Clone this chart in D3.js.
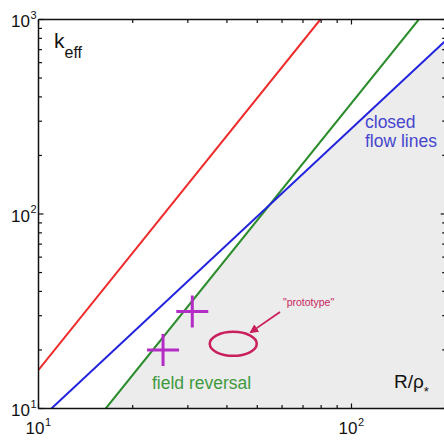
<!DOCTYPE html>
<html>
<head>
<meta charset="utf-8">
<script src="https://cdn.jsdelivr.net/npm/d3@7"></script>
<style>
  html, body { margin: 0; padding: 0; background: #fff; }
  svg { display: block; font-family: "Liberation Sans", Arial, Helvetica, sans-serif; }
</style>
</head>
<body>
<svg id="chart" width="444" height="440"></svg>
<script>
// ---------- data ----------
const xDomain = [10, 200];
const yDomain = [10, 1000];
const xTickExps = ["1", "2"];          // 10^1, 10^2
const yTickExps = ["1", "2", "3"];     // 10^1, 10^2, 10^3

// scaling lines (endpoints, data units: R/rho*, k_eff)
const redLine   = [[10, 15.8], [79.5, 1000]];
const greenLine = [[16.4, 10], [164, 1000]];
const blueLine  = [[11, 10], [200, 780]];

// machine points (crosses)
const crossPoints = [[25, 20], [31, 31.5]];
// "prototype" ellipse centre
const prototypePoint = [41.9, 21.5];
const prototypeLabel = "\"prototype\"";
const prototypeLabelPos = [60.4, 33.6];
const prototypeArrow = [[59.1, 31.3], [47.7, 24.7]];

// ---------- layout ----------
const svg = d3.select("#chart");
const pL = 38.5, pR = 445.7, pT = 19.5, pB = 408.5;
const x = d3.scaleLog().domain(xDomain).range([pL, pR]);
const y = d3.scaleLog().domain(yDomain).range([pB, pT]);

const colors = {
  red: "#ee2a2a", green: "#2b8c2b", blue: "#2323dd",
  blueText: "#4646cf", greenText: "#3f9a3f",
  cross: "#b42cc6", proto: "#c91f5c", shade: "#ececec"
};

const defs = svg.append("defs");
defs.append("clipPath").attr("id", "clip")
  .append("rect").attr("x", pL).attr("y", pT)
  .attr("width", pR - pL).attr("height", pB - pT);

const plot = svg.append("g").attr("clip-path", "url(#clip)");

// intersection of green and blue lines (in log space)
function lineParams(l) {
  const [a, b] = l.map(p => [Math.log10(p[0]), Math.log10(p[1])]);
  const m = (b[1] - a[1]) / (b[0] - a[0]);
  return { m, c: a[1] - m * a[0] };
}
const gP = lineParams(greenLine), bP = lineParams(blueLine);
const lx = (bP.c - gP.c) / (gP.m - bP.m);
const inter = [Math.pow(10, lx), Math.pow(10, gP.m * lx + gP.c)];
const shadePoly = [greenLine[0], inter, blueLine[1], [xDomain[1], yDomain[0]]];

const lineGen = d3.line().x(d => x(d[0])).y(d => y(d[1]));

plot.append("path")
  .attr("d", lineGen(shadePoly) + "Z")
  .attr("fill", colors.shade);

[[redLine, colors.red], [greenLine, colors.green], [blueLine, colors.blue]].forEach(([l, c]) => {
  plot.append("path").attr("d", lineGen(l)).attr("fill", "none")
    .attr("stroke", c).attr("stroke-width", 2);
});

// crosses
const arm = 16;
crossPoints.forEach(p => {
  const cx = x(p[0]), cy = y(p[1]);
  plot.append("line").attr("x1", cx - arm).attr("x2", cx + arm).attr("y1", cy).attr("y2", cy)
    .attr("stroke", colors.cross).attr("stroke-width", 3);
  plot.append("line").attr("x1", cx).attr("x2", cx).attr("y1", cy - arm).attr("y2", cy + arm)
    .attr("stroke", colors.cross).attr("stroke-width", 3);
});

// prototype ellipse
plot.append("ellipse")
  .attr("cx", x(prototypePoint[0])).attr("cy", y(prototypePoint[1]))
  .attr("rx", 23.5).attr("ry", 12)
  .attr("fill", "none").attr("stroke", colors.proto).attr("stroke-width", 2.5);

// arrow
defs.append("marker").attr("id", "arr")
  .attr("viewBox", "0 0 10 10").attr("refX", 8).attr("refY", 5)
  .attr("markerWidth", 5).attr("markerHeight", 5).attr("orient", "auto")
  .append("path").attr("d", "M0,0 L10,5 L0,10 Z").attr("fill", colors.proto);
plot.append("line")
  .attr("x1", x(prototypeArrow[0][0])).attr("y1", y(prototypeArrow[0][1]))
  .attr("x2", x(prototypeArrow[1][0])).attr("y2", y(prototypeArrow[1][1]))
  .attr("stroke", colors.proto).attr("stroke-width", 1.8)
  .attr("marker-end", "url(#arr)");
plot.append("text")
  .attr("x", x(prototypeLabelPos[0])).attr("y", y(prototypeLabelPos[1]))
  .attr("font-size", 10.5).attr("fill", colors.proto).text(prototypeLabel);

// annotation texts
plot.append("text").attr("x", 365).attr("y", 128).attr("font-size", 17.5)
  .attr("fill", colors.blueText).text("closed");
plot.append("text").attr("x", 365).attr("y", 147).attr("font-size", 17.5)
  .attr("fill", colors.blueText).text("flow lines");
plot.append("text").attr("x", 152).attr("y", 389).attr("font-size", 17.5)
  .attr("fill", colors.greenText).text("field reversal");

// ---------- axes ----------
const axisG = svg.append("g").attr("stroke", "#111").attr("stroke-width", 1.5);
axisG.append("line").attr("x1", pL).attr("x2", pL).attr("y1", pT).attr("y2", pB);
axisG.append("line").attr("x1", pL).attr("x2", pR).attr("y1", pB).attr("y2", pB);
axisG.append("line").attr("x1", pL).attr("x2", pR).attr("y1", pT).attr("y2", pT);
axisG.append("line").attr("x1", pR).attr("x2", pR).attr("y1", pT).attr("y2", pB);

const isMajor = v => Math.abs(Math.log10(v) - Math.round(Math.log10(v))) < 1e-9;
const tickG = svg.append("g").attr("stroke", "#111").attr("stroke-width", 1.2);
x.ticks().forEach(v => {
  const L = isMajor(v) ? 5 : 3.5, px = x(v);
  tickG.append("line").attr("x1", px).attr("x2", px).attr("y1", pB).attr("y2", pB - L);
  tickG.append("line").attr("x1", px).attr("x2", px).attr("y1", pT).attr("y2", pT + L);
});
y.ticks().forEach(v => {
  const L = isMajor(v) ? 5 : 3.5, py = y(v);
  tickG.append("line").attr("x1", pL).attr("x2", pL + L).attr("y1", py).attr("y2", py);
  tickG.append("line").attr("x1", pR).attr("x2", pR - L).attr("y1", py).attr("y2", py);
});

// tick labels with exponents
const xMajors = x.ticks().filter(isMajor);
xMajors.forEach((v, i) => {
  const px = x(v);
  svg.append("text").attr("x", px + 6).attr("y", 434).attr("text-anchor", "end")
    .attr("font-size", 17).attr("fill", "#111").text("10");
  svg.append("text").attr("x", px + 6.5).attr("y", 426).attr("font-size", 11)
    .attr("fill", "#111").text(xTickExps[i]);
});
const yMajors = y.ticks().filter(isMajor);
yMajors.forEach((v, i) => {
  const py = y(v);
  svg.append("text").attr("x", 30).attr("y", py + 7.5).attr("text-anchor", "end")
    .attr("font-size", 17).attr("fill", "#111").text("10");
  svg.append("text").attr("x", 30.5).attr("y", py - 1).attr("font-size", 11)
    .attr("fill", "#111").text(yTickExps[i]);
});

// axis titles
const kt = svg.append("text").attr("x", 54).attr("y", 48).attr("font-size", 21).attr("fill", "#111");
kt.append("tspan").text("k");
kt.append("tspan").attr("dy", 10).attr("font-size", 16).text("eff");

const rt = svg.append("text").attr("x", 394).attr("y", 388).attr("font-size", 19).attr("fill", "#111");
rt.append("tspan").text("R/ρ");
rt.append("tspan").attr("dy", 8).attr("font-size", 13).text("*");
</script>
</body>
</html>
